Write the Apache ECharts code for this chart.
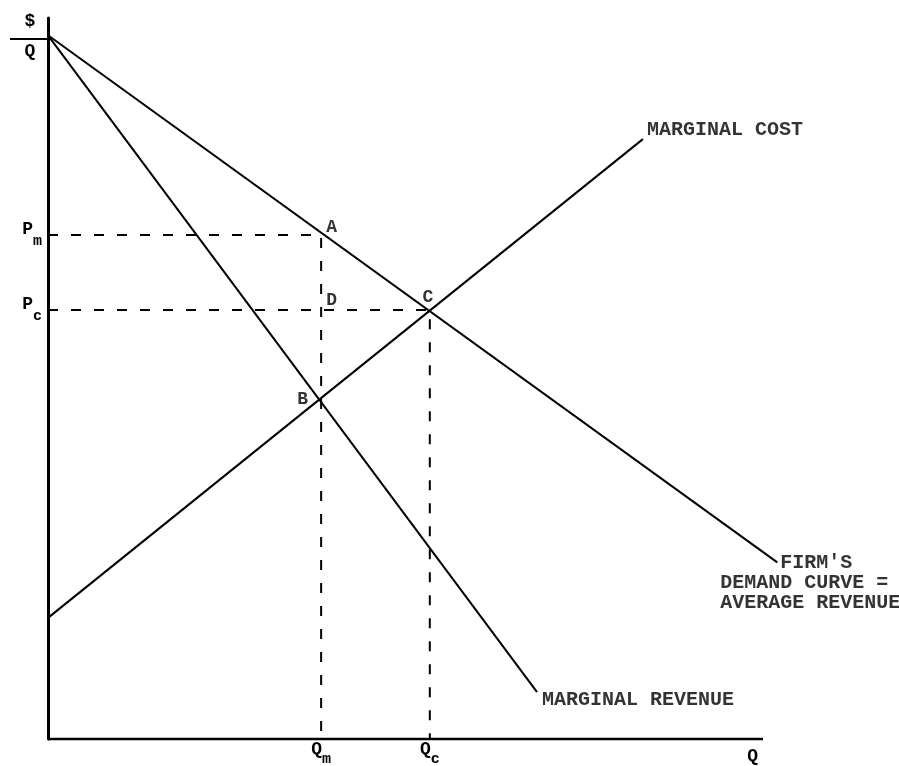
<!DOCTYPE html>
<html>
<head>
<meta charset="utf-8">
<script src="https://cdn.jsdelivr.net/npm/echarts@6/dist/echarts.min.js"></script>
<style>
  html, body { margin: 0; padding: 0; background: #fff; }
  #main { width: 899px; height: 766px; }
</style>
</head>
<body>
<div id="main"></div>
<script>
// quantities / prices (axes run 0..100)
const qM = 38.2;   // monopoly output
const qC = 53.4;   // competitive output
const pM = 69.9;   // monopoly price
const pC = 59.5;   // competitive price
const mcAtQm = 47.2;

const demandCurve = [[0, 97.6], [102, 24.5]];
const marginalRevenue = [[0, 97.6], [68.4, 6.5]];
const marginalCost = [[0, 16.8], [83.2, 83.2]];

const monopolyGuide = [[0, pM], [qM, pM], [qM, 0]];
const competitiveGuide = [[0, pC], [qC, pC], [qC, 0]];

// the drawn quantity axis stops at 100, the demand curve runs a bit past it
const quantityAxis = [[0, 0], [100, 0]];

const pointNames = ['A', 'D', 'C', 'B'];
const pointCoords = [[qM, pM], [qM, pC], [qC, pC], [qM, mcAtQm]];

const curveNames = ['MARGINAL COST', 'MARGINAL REVENUE', "     FIRM'S\nDEMAND CURVE =\nAVERAGE REVENUE"];
const curveEnds = [marginalCost[1], marginalRevenue[1], demandCurve[1]];

const yTickValues = [pM, pC];
const yTickLabels = ['m', 'c'];
const xTickValues = [qM, qC];
const xTickLabels = ['m', 'c'];

const FONT = '"Liberation Mono", "DejaVu Sans Mono", monospace';
const INK = '#000';

// label offsets (style only)
const pointLabelStyle = {
  A: {align: 'left', offset: [5, -8]},
  D: {align: 'left', offset: [5, -10]},
  C: {align: 'center', offset: [-2, -13]},
  B: {align: 'right', offset: [-13, 1]}
};
const curveLabelStyle = [
  {align: 'left', verticalAlign: 'middle', offset: [4, -9]},
  {align: 'left', verticalAlign: 'middle', offset: [5, 8]},
  {align: 'left', verticalAlign: 'top', offset: [-57, -9]}
];

function subLabel(base, values, subs) {
  return function (v) {
    for (let i = 0; i < values.length; i++) {
      if (Math.abs(v - values[i]) < 1e-6) return '{p|' + base + '}{s|' + subs[i] + '}';
    }
    return '';
  };
}

const chart = echarts.init(document.getElementById('main'), null, {renderer: 'canvas'});

const solid = {color: INK, width: 2};
const dashed = {color: INK, width: 2, type: [10, 13]};

chart.setOption({
  backgroundColor: '#fff',
  animation: false,
  // 100 quantity units = 715px, x axis extent 0..104 so the demand line is not cut
  grid: {left: 48, right: 107.4, top: 18, bottom: 27, containLabel: false, outerBoundsMode: 'none'},
  xAxis: {
    type: 'value', min: 0, max: 104,
    splitLine: {show: false},
    axisTick: {show: false},
    axisLine: {show: false},
    axisLabel: {
      customValues: xTickValues,
      formatter: subLabel('Q', xTickValues, xTickLabels),
      margin: -1,
      rich: {
        p: {fontFamily: FONT, fontWeight: 'bold', fontSize: 18, color: INK, padding: [0, 0, 6, 0]},
        s: {fontFamily: FONT, fontWeight: 'bold', fontSize: 15, color: INK, padding: [14, 0, 0, 0]}
      }
    },
    name: 'Q',
    nameLocation: 'end',
    nameGap: -39,
    nameTextStyle: {fontFamily: FONT, fontWeight: 'bold', fontSize: 18, color: INK, align: 'center', verticalAlign: 'top', padding: [8, 0, 0, 0]}
  },
  yAxis: {
    type: 'value', min: 0, max: 100,
    splitLine: {show: false},
    axisTick: {show: false},
    axisLine: {lineStyle: {color: INK, width: 3}},
    axisLabel: {
      customValues: yTickValues,
      formatter: subLabel('P', yTickValues, yTickLabels),
      margin: 6,
      rich: {
        p: {fontFamily: FONT, fontWeight: 'bold', fontSize: 18, color: INK, padding: [0, 0, 12, 0]},
        s: {fontFamily: FONT, fontWeight: 'bold', fontSize: 15, color: INK, padding: [12, 0, 0, 0]}
      }
    },
    name: '{d|$}\n{bar| }\n{q|Q}',
    nameLocation: 'end',
    nameGap: 7,
    nameTextStyle: {
      align: 'center', verticalAlign: 'top', padding: [0, 36, 0, 0],
      rich: {
        d: {fontFamily: FONT, fontWeight: 'bold', fontSize: 18, color: INK, lineHeight: 20, align: 'center'},
        bar: {width: 40, height: 2, lineHeight: 16, backgroundColor: INK, fontSize: 2, align: 'right'},
        q: {fontFamily: FONT, fontWeight: 'bold', fontSize: 18, color: INK, lineHeight: 8, align: 'center'}
      }
    }
  },
  series: [
    {type: 'line', data: quantityAxis, showSymbol: false, clip: false, lineStyle: {color: INK, width: 2.5}, silent: true},
    {type: 'line', data: demandCurve, showSymbol: false, clip: false, lineStyle: solid, silent: true},
    {type: 'line', data: marginalRevenue, showSymbol: false, clip: false, lineStyle: solid, silent: true},
    {type: 'line', data: marginalCost, showSymbol: false, clip: false, lineStyle: solid, silent: true},
    {type: 'line', data: monopolyGuide, showSymbol: false, clip: false, lineStyle: dashed, silent: true},
    {type: 'line', data: competitiveGuide, showSymbol: false, clip: false, lineStyle: dashed, silent: true},
    {
      type: 'scatter', symbolSize: 1, clip: false, silent: true,
      itemStyle: {color: 'transparent'},
      data: pointNames.map((n, i) => ({
        name: n, value: pointCoords[i],
        label: Object.assign({show: true, position: 'inside', verticalAlign: 'middle', formatter: n}, pointLabelStyle[n])
      })),
      label: {fontFamily: FONT, fontWeight: 'bold', fontSize: 18, color: INK}
    },
    {
      type: 'scatter', symbolSize: 1, clip: false, silent: true,
      itemStyle: {color: 'transparent'},
      data: curveNames.map((n, i) => ({
        name: n, value: curveEnds[i],
        label: Object.assign({show: true, position: 'inside', formatter: n}, curveLabelStyle[i])
      })),
      label: {fontFamily: FONT, fontWeight: 'bold', fontSize: 20, lineHeight: 20, color: INK}
    }
  ]
});
</script>
</body>
</html>
